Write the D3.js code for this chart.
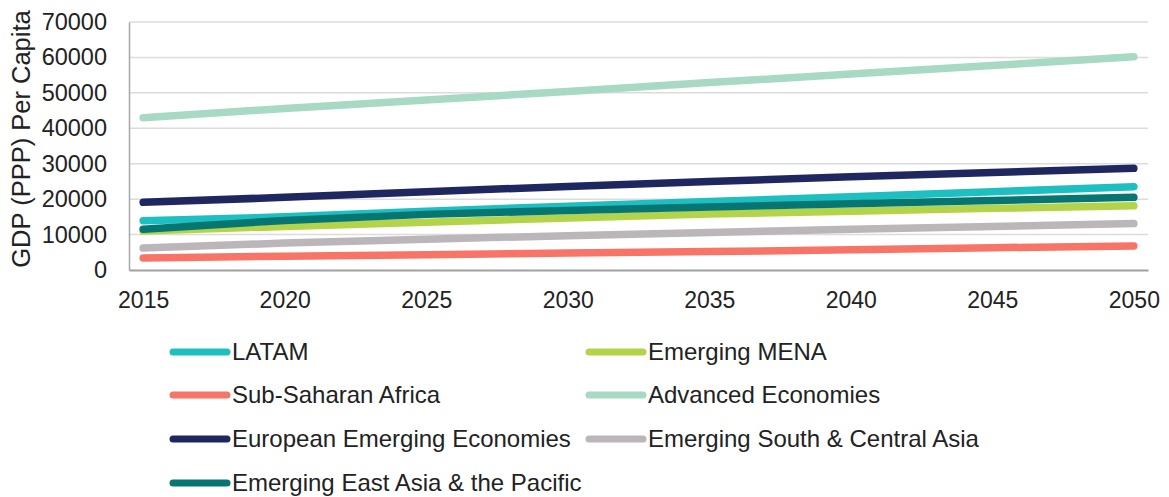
<!DOCTYPE html>
<html>
<head>
<meta charset="utf-8">
<script src="https://cdn.jsdelivr.net/npm/d3@7"></script>
<style>
  html, body { margin: 0; padding: 0; background: #fff; }
  svg { display: block; font-family: "Liberation Sans", Arial, Helvetica, sans-serif; }
</style>
</head>
<body>
<svg id="chart" width="1169" height="497"></svg>
<script>
// Years sampled along the projection
const years = [2015, 2020, 2025, 2030, 2035, 2040, 2045, 2050];

// GDP (PPP) per capita by region
const latam        = [13900, 15000, 16600, 18000, 19300, 20700, 22100, 23500];
const menaEmerging = [11000, 12300, 13500, 14700, 15800, 16600, 17400, 18100];
const subSaharan   = [3400, 3900, 4300, 4800, 5200, 5700, 6300, 6800];
const advanced     = [43000, 45600, 48000, 50400, 52900, 55300, 57700, 60200];
const europeanEm   = [19100, 20500, 22100, 23600, 25000, 26300, 27500, 28700];
const southCentral = [6200, 7600, 8700, 9700, 10600, 11500, 12300, 13100];
const eastAsiaPac  = [11500, 14000, 15700, 16800, 17800, 18700, 19600, 20500];

const seriesNames = [
  "LATAM", "Emerging MENA", "Sub-Saharan Africa", "Advanced Economies",
  "European Emerging Economies", "Emerging South & Central Asia",
  "Emerging East Asia & the Pacific"
];
const seriesValues = [latam, menaEmerging, subSaharan, advanced, europeanEm, southCentral, eastAsiaPac];
const seriesColors = ["#1dbfc1", "#b3d44a", "#f87467", "#a8d9c4", "#1f2761", "#bab6ba", "#077672"];

const yTicks = [0, 10000, 20000, 30000, 40000, 50000, 60000, 70000];
const xTicks = [2015, 2020, 2025, 2030, 2035, 2040, 2045, 2050];
const yTitle = "GDP (PPP) Per Capita";

const series = seriesNames.map((name, i) => ({
  name,
  color: seriesColors[i],
  points: years.map((yr, j) => ({ year: yr, value: seriesValues[i][j] }))
}));

const svg = d3.select("#chart");
const plot = { left: 129, right: 1148, top: 22, bottom: 270 };

const x = d3.scaleLinear().domain([2014.5, 2050.5]).range([plot.left, plot.right]);
const y = d3.scaleLinear().domain([0, 70000]).range([plot.bottom, plot.top]);

// Horizontal gridlines
svg.append("g")
  .selectAll("line")
  .data(yTicks.filter(t => t > 0))
  .join("line")
  .attr("x1", plot.left).attr("x2", plot.right)
  .attr("y1", d => y(d)).attr("y2", d => y(d))
  .attr("stroke", "#dcdcdc").attr("stroke-width", 1.5);

// Y axis
const yAxis = svg.append("g")
  .attr("transform", `translate(${plot.left},0)`)
  .call(d3.axisLeft(y).tickValues(yTicks).tickSize(0).tickPadding(22).tickFormat(d3.format("d")));
yAxis.select(".domain").attr("stroke", "#a6a6a6").attr("stroke-width", 1.5);
yAxis.selectAll("text").attr("font-size", 23.5).attr("fill", "#222")
  .attr("font-family", "Liberation Sans, Arial, sans-serif");

// X axis
const xAxis = svg.append("g")
  .attr("transform", `translate(0,${plot.bottom})`)
  .call(d3.axisBottom(x).tickValues(xTicks).tickSize(0).tickPadding(22).tickFormat(d3.format("d")));
xAxis.select(".domain").attr("stroke", "#a0a0a0").attr("stroke-width", 2);
xAxis.selectAll("text").attr("font-size", 23).attr("fill", "#222")
  .attr("font-family", "Liberation Sans, Arial, sans-serif");

// Y axis title
svg.append("text")
  .attr("transform", `translate(30,139) rotate(-90)`)
  .attr("text-anchor", "middle")
  .attr("font-size", 25.5)
  .attr("fill", "#222")
  .text(yTitle);

// Series lines
const line = d3.line().x(d => x(d.year)).y(d => y(d.value));
svg.append("g")
  .selectAll("path")
  .data(series)
  .join("path")
  .attr("d", d => line(d.points))
  .attr("fill", "none")
  .attr("stroke", d => d.color)
  .attr("stroke-width", 7.5)
  .attr("stroke-linecap", "round")
  .attr("stroke-linejoin", "round");

// Legend: two columns, filled row by row
const legendCols = [173, 589];
const legendRows = [352, 395, 439, 483];
const legend = svg.append("g")
  .selectAll("g")
  .data(series)
  .join("g")
  .attr("transform", (d, i) => `translate(${legendCols[i % 2]},${legendRows[Math.floor(i / 2)]})`);
legend.append("line")
  .attr("x1", 0).attr("x2", 54).attr("y1", 0).attr("y2", 0)
  .attr("stroke", d => d.color).attr("stroke-width", 7).attr("stroke-linecap", "round");
legend.append("text")
  .attr("x", 59).attr("y", 0).attr("dy", "0.35em")
  .attr("font-size", 24).attr("fill", "#222")
  .text(d => d.name);
</script>
</body>
</html>
